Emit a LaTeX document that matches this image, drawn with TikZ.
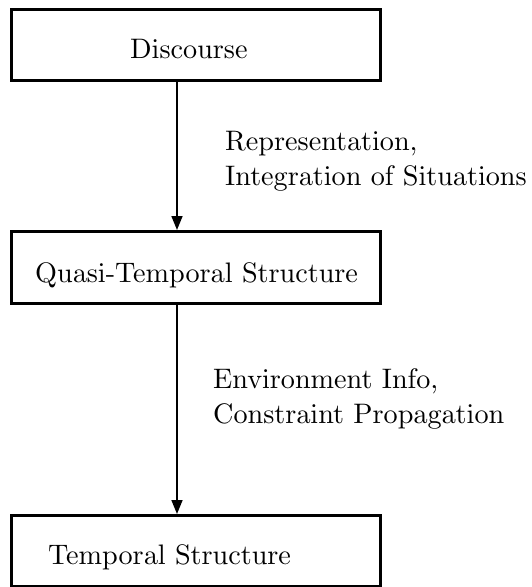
\documentclass[tikz,border=0pt]{standalone}
\usetikzlibrary{arrows.meta,calc}
\font\bigrm=cmr10 at 28.2pt
\begin{document}
\begin{tikzpicture}[x=1pt,y=1pt,
  box/.style={draw,line width=2.6pt,minimum width=369pt,inner sep=0pt,anchor=north west},
  txt/.style={anchor=base west,inner sep=0pt,font=\bigrm},
  arr/.style={line width=1.6pt,-{Triangle[length=14pt,width=11pt]}}]
\useasboundingbox (0,0) rectangle (532,-587);
\node[box,minimum height=71pt] (top) at (10,-8) {};
\node[box,minimum height=72pt] (mid) at (10,-230) {};
\node[box,minimum height=71pt] (bot) at (10,-514) {};
\node[txt] (t1) at (130,-58) {Discourse};
\node[txt] (t2) at (35,-282) {Quasi-Temporal Structure};
\node[txt] (t3) at (48,-564) {Temporal Structure};
\node[txt] (l1a) at (225,-150) {Representation,};
\node[txt] (l1b) at (225,-185) {Integration of Situations};
\node[txt] (l2a) at (213,-388) {Environment Info,};
\node[txt] (l2b) at (213,-423) {Constraint Propagation};
\coordinate (ax) at (177,0);
\draw[arr] (top.south -| ax) -- (mid.north -| ax);
\draw[arr] (mid.south -| ax) -- (bot.north -| ax);
\end{tikzpicture}
\end{document}
